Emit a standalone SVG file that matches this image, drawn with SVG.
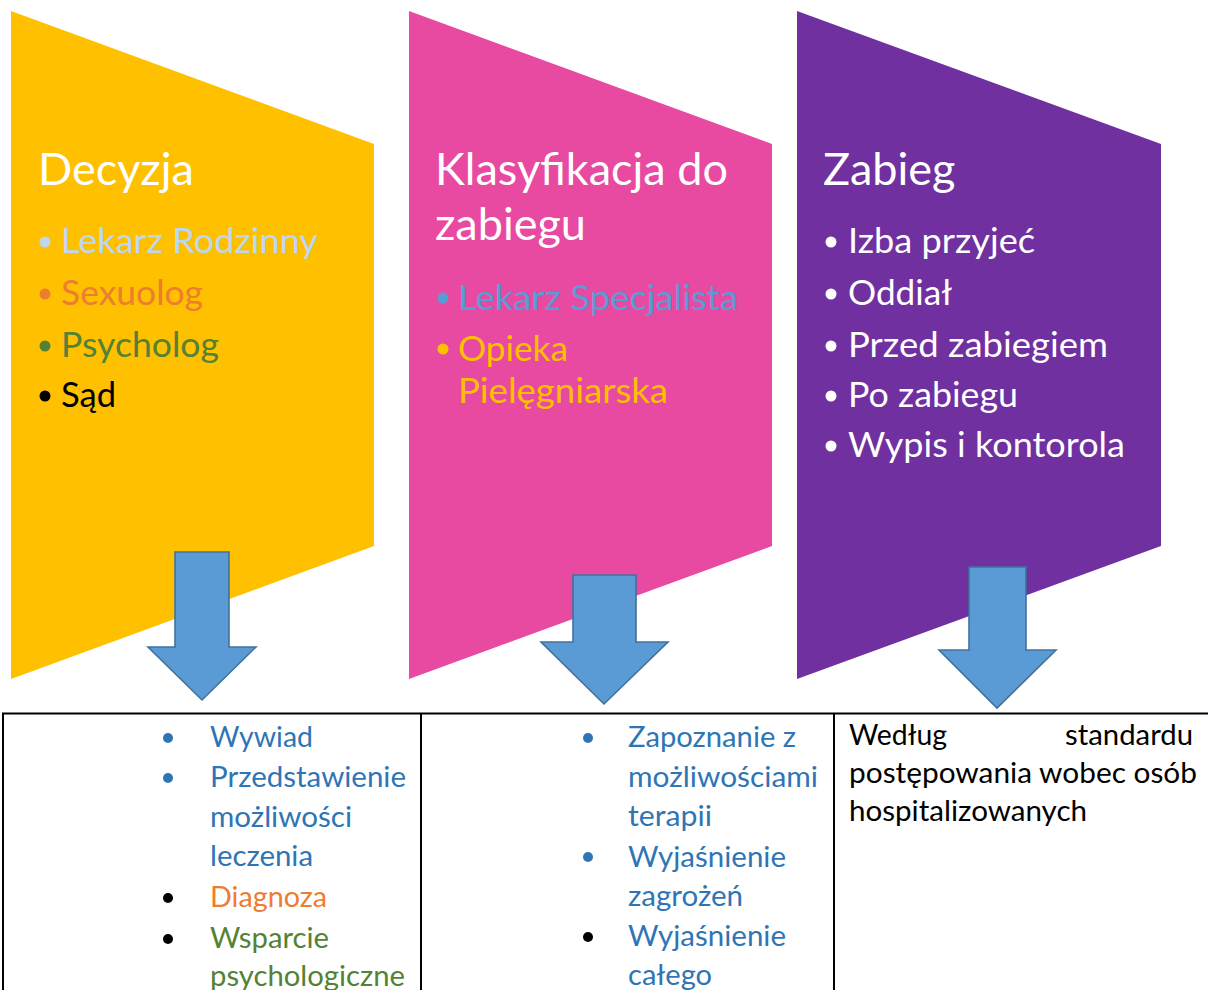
<svg xmlns="http://www.w3.org/2000/svg" width="1208" height="990" viewBox="0 0 1208 990">
  <style>
    text { font-family: Lato, "Open Sans", "Liberation Sans", sans-serif; }
    .title { fill: #ffffff; font-size: 45px; }
    .item { font-size: 34px; }
    .cell { font-size: 29px; }
    .arrow { fill: #5B9BD5; stroke: #41719C; stroke-width: 1.6; }
    .grid { stroke: #000000; stroke-width: 2; fill: none; }
  </style>

  <rect width="1208" height="990" fill="#ffffff"/>

  <!-- Stage 1: decision -->
  <g id="stage-decyzja">
    <polygon points="11,11 374,144 374,546 11,679" fill="#FFC000"/>
    <text class="title" x="38" y="185">Decyzja</text>
    <circle cx="45" cy="242" r="5.5" fill="#BDD7EE"/>
    <text class="item" x="61" y="253" fill="#BDD7EE" textLength="257" lengthAdjust="spacingAndGlyphs">Lekarz Rodzinny</text>
    <circle cx="45" cy="294" r="5.5" fill="#ED7D31"/>
    <text class="item" x="61" y="305" fill="#ED7D31" textLength="142" lengthAdjust="spacingAndGlyphs">Sexuolog</text>
    <circle cx="45" cy="346" r="5.5" fill="#548235"/>
    <text class="item" x="61" y="357" fill="#548235" textLength="158" lengthAdjust="spacingAndGlyphs">Psycholog</text>
    <circle cx="45" cy="396" r="5.5" fill="#000000"/>
    <text class="item" x="61" y="407" fill="#000000" textLength="55" lengthAdjust="spacingAndGlyphs">Sąd</text>
  </g>

  <!-- Stage 2: qualification -->
  <g id="stage-klasyfikacja">
    <polygon points="409,11 772,144 772,546 409,679" fill="#E84AA1"/>
    <text class="title" x="435" y="185">Klasyfikacja do</text>
    <text class="title" x="435" y="240">zabiegu</text>
    <circle cx="443" cy="298" r="5.5" fill="#5B9BD5"/>
    <text class="item" x="458" y="310" fill="#5B9BD5" textLength="280" lengthAdjust="spacingAndGlyphs">Lekarz Specjalista</text>
    <circle cx="443" cy="349" r="5.5" fill="#FFC000"/>
    <text class="item" x="458" y="361" fill="#FFC000" textLength="110" lengthAdjust="spacingAndGlyphs">Opieka</text>
    <text class="item" x="458" y="403" fill="#FFC000" textLength="210" lengthAdjust="spacingAndGlyphs">Pielęgniarska</text>
  </g>

  <!-- Stage 3: procedure -->
  <g id="stage-zabieg">
    <polygon points="797,11 1161,144 1161,546 797,679" fill="#7030A0"/>
    <text class="title" x="823" y="185">Zabieg</text>
    <g fill="#ffffff">
      <circle cx="831" cy="242" r="5.5"/>
      <circle cx="831" cy="294" r="5.5"/>
      <circle cx="831" cy="346" r="5.5"/>
      <circle cx="831" cy="396" r="5.5"/>
      <circle cx="831" cy="446" r="5.5"/>
      <text class="item" x="848" y="253" textLength="187" lengthAdjust="spacingAndGlyphs">Izba przyjeć</text>
      <text class="item" x="848" y="305" textLength="104" lengthAdjust="spacingAndGlyphs">Oddiał</text>
      <text class="item" x="848" y="357" textLength="260" lengthAdjust="spacingAndGlyphs">Przed zabiegiem</text>
      <text class="item" x="848" y="407" textLength="170" lengthAdjust="spacingAndGlyphs">Po zabiegu</text>
      <text class="item" x="848" y="457" textLength="277" lengthAdjust="spacingAndGlyphs">Wypis i kontorola</text>
    </g>
  </g>

  <!-- Down arrows linking stages to the table -->
  <g id="connectors">
    <polygon class="arrow" points="175,552 229,552 229,647 256,647 202,700 148,647 175,647"/>
    <polygon class="arrow" points="573,575 636,575 636,642 668,642 604,704 541,642 573,642"/>
    <polygon class="arrow" points="969,567 1026,567 1026,650 1056,650 997,708 939,650 969,650"/>
  </g>

  <!-- Table below -->
  <g id="table">
    <line class="grid" x1="2" y1="713.5" x2="1208" y2="713.5"/>
    <line class="grid" x1="3" y1="713" x2="3" y2="990"/>
    <line class="grid" x1="421" y1="713" x2="421" y2="990"/>
    <line class="grid" x1="834" y1="713" x2="834" y2="990"/>
  </g>

  <g id="cell-1">
    <circle cx="168" cy="738" r="5" fill="#2E75B6"/>
    <text class="cell" x="210" y="747" fill="#2E75B6" textLength="103" lengthAdjust="spacingAndGlyphs">Wywiad</text>
    <circle cx="168" cy="778" r="5" fill="#2E75B6"/>
    <text class="cell" x="210" y="787" fill="#2E75B6" textLength="196" lengthAdjust="spacingAndGlyphs">Przedstawienie</text>
    <text class="cell" x="210" y="827" fill="#2E75B6" textLength="142" lengthAdjust="spacingAndGlyphs">możliwości</text>
    <text class="cell" x="210" y="866" fill="#2E75B6" textLength="103" lengthAdjust="spacingAndGlyphs">leczenia</text>
    <circle cx="168" cy="898" r="5" fill="#000000"/>
    <text class="cell" x="210" y="907" fill="#ED7D31" textLength="117" lengthAdjust="spacingAndGlyphs">Diagnoza</text>
    <circle cx="168" cy="939" r="5" fill="#000000"/>
    <text class="cell" x="210" y="948" fill="#548235" textLength="119" lengthAdjust="spacingAndGlyphs">Wsparcie</text>
    <text class="cell" x="210" y="986" fill="#548235" textLength="195" lengthAdjust="spacingAndGlyphs">psychologiczne</text>
  </g>

  <g id="cell-2">
    <circle cx="588" cy="738" r="5" fill="#2E75B6"/>
    <text class="cell" x="628" y="747" fill="#2E75B6" textLength="168" lengthAdjust="spacingAndGlyphs">Zapoznanie z</text>
    <text class="cell" x="628" y="787" fill="#2E75B6" textLength="190" lengthAdjust="spacingAndGlyphs">możliwościami</text>
    <text class="cell" x="628" y="826" fill="#2E75B6" textLength="84" lengthAdjust="spacingAndGlyphs">terapii</text>
    <circle cx="588" cy="857" r="5" fill="#2E75B6"/>
    <text class="cell" x="628" y="867" fill="#2E75B6" textLength="158" lengthAdjust="spacingAndGlyphs">Wyjaśnienie</text>
    <text class="cell" x="628" y="906" fill="#2E75B6" textLength="115" lengthAdjust="spacingAndGlyphs">zagrożeń</text>
    <circle cx="588" cy="937" r="5" fill="#000000"/>
    <text class="cell" x="628" y="946" fill="#2E75B6" textLength="158" lengthAdjust="spacingAndGlyphs">Wyjaśnienie</text>
    <text class="cell" x="628" y="985" fill="#2E75B6" textLength="84" lengthAdjust="spacingAndGlyphs">całego</text>
  </g>

  <g id="cell-3" fill="#000000">
    <text class="cell" x="849" y="745" textLength="98" lengthAdjust="spacingAndGlyphs">Według</text>
    <text class="cell" x="1065" y="745" textLength="128" lengthAdjust="spacingAndGlyphs">standardu</text>
    <text class="cell" x="849" y="783" textLength="348" lengthAdjust="spacingAndGlyphs">postępowania wobec osób</text>
    <text class="cell" x="849" y="821" textLength="238" lengthAdjust="spacingAndGlyphs">hospitalizowanych</text>
  </g>
</svg>
